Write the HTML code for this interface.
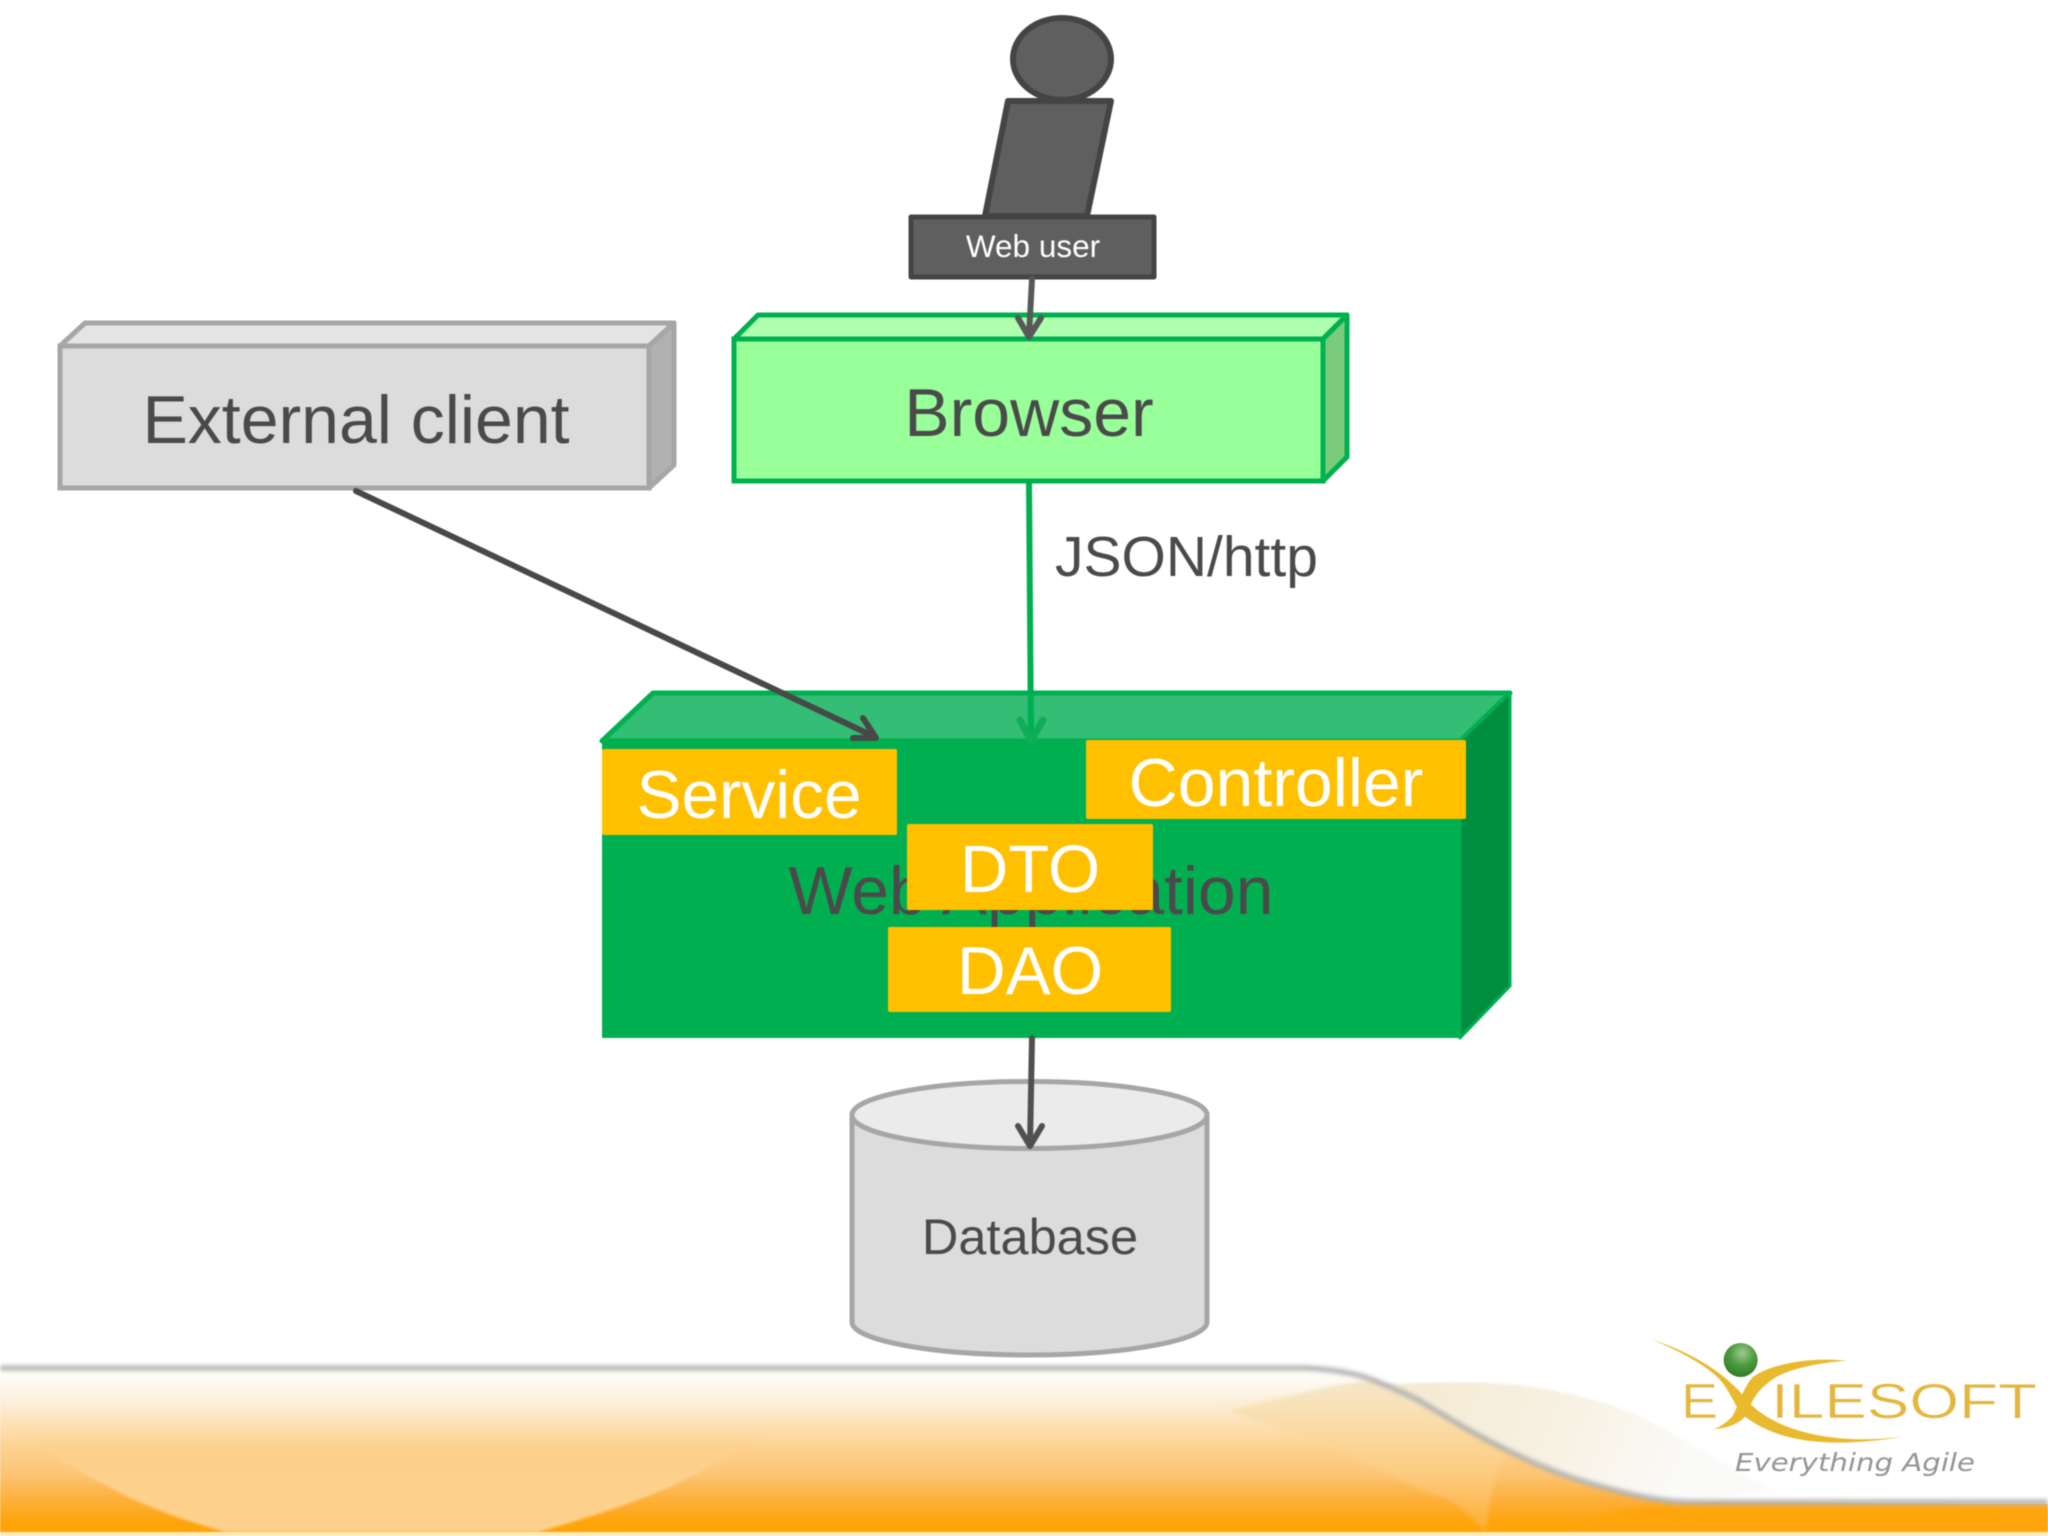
<!DOCTYPE html>
<html><head><meta charset="utf-8"><style>
html,body{margin:0;padding:0;background:#fff;width:2048px;height:1536px;overflow:hidden}
svg{display:block;filter:blur(.5px)}
text{font-family:"Liberation Sans",sans-serif}
</style></head><body>
<svg width="2048" height="1536" viewBox="0 0 2048 1536" xmlns="http://www.w3.org/2000/svg">
<defs>
<linearGradient id="band" x1="0" y1="1368" x2="0" y2="1532" gradientUnits="userSpaceOnUse">
<stop offset="0" stop-color="#fefefa"/><stop offset=".08" stop-color="#fdfaf2"/><stop offset=".2" stop-color="#fcf0dd"/><stop offset=".32" stop-color="#fde3bb"/><stop offset=".5" stop-color="#fdd08c"/><stop offset=".65" stop-color="#fcc574"/><stop offset=".8" stop-color="#fdb03c"/><stop offset=".95" stop-color="#fea408"/><stop offset="1" stop-color="#fea40a"/>
</linearGradient>
<linearGradient id="lite" x1="0" y1="1425" x2="0" y2="1475" gradientUnits="userSpaceOnUse">
<stop offset="0" stop-color="#fdd490" stop-opacity="0"/><stop offset="1" stop-color="#fdd08c" stop-opacity="1"/>
</linearGradient>
<linearGradient id="foldA" x1="1420" y1="1385" x2="1680" y2="1490" gradientUnits="userSpaceOnUse">
<stop offset="0" stop-color="#f5ead3"/><stop offset=".55" stop-color="#f8f2e4"/><stop offset="1" stop-color="#fafaf8"/>
</linearGradient>
<linearGradient id="foldB" x1="0" y1="1385" x2="0" y2="1530" gradientUnits="userSpaceOnUse">
<stop offset="0" stop-color="#f5e5c0" stop-opacity=".9"/><stop offset=".5" stop-color="#fcd28e" stop-opacity=".7"/><stop offset="1" stop-color="#fdc46e" stop-opacity=".4"/>
</linearGradient>
<radialGradient id="ball" cx=".55" cy=".3" r=".75"><stop offset="0" stop-color="#9ecb92"/><stop offset=".5" stop-color="#4c9a3c"/><stop offset="1" stop-color="#2f7a26"/></radialGradient>
<filter id="b2" x="-5%" y="-50%" width="110%" height="200%"><feGaussianBlur stdDeviation="2"/></filter>
<filter id="b1" x="-5%" y="-20%" width="110%" height="140%"><feGaussianBlur stdDeviation="1.2"/></filter>
</defs>

<!-- footer band -->
<path d="M0,1369 H1306 C1330,1370 1355,1373 1373,1380 C1390,1387 1405,1393 1418,1400 C1447,1417 1477,1436 1507,1450 C1537,1465 1567,1477 1596,1485 C1625,1493 1655,1501 1686,1502 L2048,1504 V1533 H0Z" fill="url(#band)"/>
<path d="M0,1420 H800 C780,1425 770,1432 755,1440 C725,1460 695,1475 663,1490 C620,1508 580,1520 538,1532 H225 C190,1522 160,1512 128,1497 C100,1482 75,1470 51,1453 C35,1440 15,1428 0,1420Z" fill="url(#lite)" filter="url(#b1)"/>
<path d="M1208,1408 C1270,1395 1350,1385 1418,1383 C1470,1381 1515,1383 1552,1390 C1585,1397 1615,1405 1641,1417 C1665,1430 1690,1442 1708,1453 C1730,1468 1755,1480 1775,1490 L1686,1502 C1655,1501 1625,1493 1596,1485 C1567,1477 1537,1465 1507,1450 C1477,1436 1447,1417 1418,1400 C1405,1393 1390,1387 1373,1380Z" fill="url(#foldA)" filter="url(#b1)"/>
<path d="M1230,1411 C1280,1397 1330,1386 1373,1381 C1390,1387 1405,1393 1418,1400 C1447,1417 1477,1436 1507,1450 C1490,1480 1490,1510 1485,1532 C1470,1515 1460,1505 1445,1498 C1420,1490 1400,1478 1373,1467 C1330,1447 1280,1430 1230,1411Z" fill="url(#foldB)" filter="url(#b2)"/>
<path d="M1650,1506 H2048 V1533 H1560 C1590,1520 1620,1508 1650,1506Z" fill="#fea511" filter="url(#b2)"/>
<path d="M0,1368 H1306 C1330,1369 1355,1373 1373,1380 C1390,1387 1405,1393 1418,1400 C1447,1417 1477,1436 1507,1450 C1537,1465 1567,1477 1596,1485 C1625,1493 1655,1501 1686,1502 H2048" fill="none" stroke="#b0b0b0" stroke-width="5" filter="url(#b2)"/>
<rect x="0" y="1532" width="2048" height="4" fill="#fde9b8"/>

<!-- logo -->
<g transform="translate(1620,1320) scale(.3333)">
<path d="M95,58 C220,100 320,160 385,245 C450,320 620,380 850,350 C640,385 480,370 375,290 C340,260 330,200 280,160 C230,120 160,85 95,58Z" fill="#e9b92e"/>
<path d="M680,122 C560,110 450,135 400,170 C375,195 360,240 340,285 C325,305 300,322 280,328 C330,325 370,305 385,275 C395,240 415,205 470,170 C530,140 610,128 680,122Z" fill="#e9b92e"/>
<circle cx="362" cy="120" r="51" fill="url(#ball)"/>
</g>
<text x="1681" y="1418" font-size="49" fill="#e3b73f" stroke="#fff" stroke-width=".5" textLength="37" lengthAdjust="spacingAndGlyphs">E</text>
<text x="1771" y="1418" font-size="49" fill="#e3b73f" stroke="#fff" stroke-width=".5" textLength="266" lengthAdjust="spacingAndGlyphs">ILESOFT</text>
<text x="1735" y="1471" style="font-family:'DejaVu Sans',sans-serif;font-style:italic" font-size="25" fill="#949494" textLength="240" lengthAdjust="spacingAndGlyphs">Everything Agile</text>

<!-- web user -->
<path d="M1008,101 H1111 L1087,216 H985Z" fill="#5f5f5f" stroke="#444" stroke-width="6" stroke-linejoin="round"/>
<ellipse cx="1062" cy="59" rx="49" ry="41" fill="#5f5f5f" stroke="#444" stroke-width="6"/>
<rect x="911" y="217" width="243" height="60" fill="#5f5f5f" stroke="#444" stroke-width="5" stroke-linejoin="round"/>
<text x="1033" y="257" font-size="31.500" fill="#fff" text-anchor="middle">Web user</text>

<!-- external client -->
<path d="M60,346 L85,323 H674 L649,346Z" fill="#e4e4e4" stroke="#a6a6a6" stroke-width="5" stroke-linejoin="round"/>
<path d="M649,346 L674,323 V465 L649,488Z" fill="#b1b1b1" stroke="#a6a6a6" stroke-width="5" stroke-linejoin="round"/>
<rect x="60" y="346" width="589" height="142" fill="#dcdcdc" stroke="#a6a6a6" stroke-width="5"/>
<text x="356" y="443" font-size="68" fill="#4a4a4a" text-anchor="middle">External client</text>

<!-- browser -->
<path d="M734,339 L758,315 H1347 L1323,339Z" fill="#adffad" stroke="#00b050" stroke-width="5" stroke-linejoin="round"/>
<path d="M1323,339 L1347,315 V457 L1323,481Z" fill="#7acc7a" stroke="#00b050" stroke-width="5" stroke-linejoin="round"/>
<rect x="734" y="339" width="589" height="142" fill="#99ff99" stroke="#00b050" stroke-width="5"/>
<text x="1029" y="436" font-size="68" fill="#4a4a4a" text-anchor="middle">Browser</text>

<!-- web application -->
<path d="M602,741 L653,693 H1510 L1460,741Z" fill="#33bd75" stroke="#00b050" stroke-width="5" stroke-linejoin="round"/>
<path d="M1460,741 L1510,693 V986 L1460,1038Z" fill="#008d40" stroke="#00b050" stroke-width="3" stroke-linejoin="round"/>
<rect x="602" y="741" width="858" height="297" fill="#00b050"/>
<text x="1031" y="914" font-size="67.800" fill="#4a4a4a" text-anchor="middle">Web Application</text>

<!-- database -->
<path d="M852,1115 V1322 C852,1340 931,1355 1029.500,1355 C1127,1355 1207,1340 1207,1322 V1115Z" fill="#dcdcdc" stroke="#a6a6a6" stroke-width="5"/>
<ellipse cx="1029.500" cy="1115" rx="177.500" ry="33.500" fill="#ebebeb" stroke="#a6a6a6" stroke-width="5"/>
<text x="1030" y="1254" font-size="50.500" fill="#4a4a4a" text-anchor="middle">Database</text>

<!-- connectors -->
<g fill="none" stroke-width="6" stroke-linecap="round" stroke-linejoin="round">
<path d="M1032,279 L1029,336 M1018,318 L1029,337 L1041,318" stroke="#585858"/>
<path d="M1029,482 L1031,740" stroke="#00b050"/>
<path d="M1020,720 L1031,741 L1043,720" stroke="#10ad58" stroke-width="7"/>
<path d="M356,491 L875,737 M863,718 L876,738 L853,738" stroke="#484848"/>
<path d="M1032,1038 L1030,1146 M1018,1126 L1030,1146 L1042,1126" stroke="#505050"/>
</g>

<!-- inner boxes -->
<rect x="602" y="749" width="295" height="86" rx="2" fill="#ffc000"/>
<text x="749" y="818" font-size="67.500" fill="#fff" text-anchor="middle">Service</text>
<rect x="1086" y="740" width="380" height="79" rx="2" fill="#ffc000"/>
<text x="1276" y="806" font-size="68" fill="#fff" text-anchor="middle">Controller</text>
<rect x="907" y="824" width="246" height="86" rx="2" fill="#ffc000"/>
<text x="1030" y="892" font-size="67" fill="#fff" text-anchor="middle">DTO</text>
<rect x="888" y="927" width="283" height="85" rx="2" fill="#ffc000"/>
<text x="1030" y="994" font-size="67.500" fill="#fff" text-anchor="middle">DAO</text>

<text x="1055" y="576" font-size="57" fill="#4a4a4a">JSON/http</text>
</svg>
</body></html>
